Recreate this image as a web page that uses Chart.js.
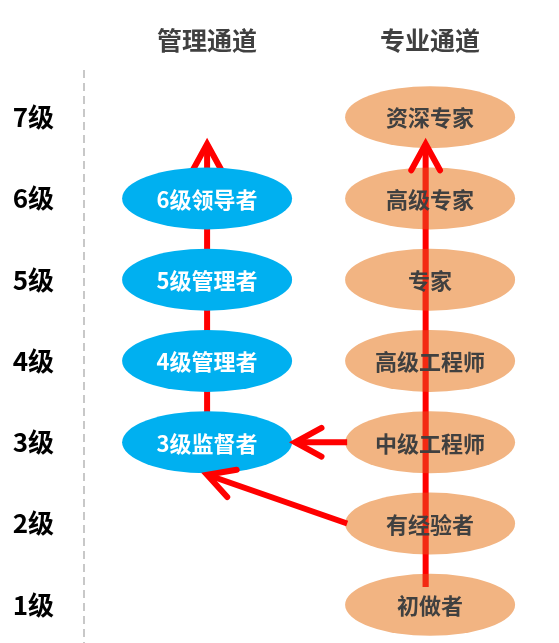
<!DOCTYPE html>
<html>
<head>
<meta charset="utf-8">
<script src="https://cdn.jsdelivr.net/npm/chart.js@4.4.1/dist/chart.umd.min.js"></script>
<style>
  html, body { margin: 0; padding: 0; background: #fff; overflow: hidden; }
  canvas { display: block; }
</style>
</head>
<body>
<canvas id="c" width="559" height="643"></canvas>
<script>
var channels = ['管理通道', '专业通道'];
var levels = [1, 2, 3, 4, 5, 6, 7];
var levelLabels = ['1级', '2级', '3级', '4级', '5级', '6级', '7级'];

var mgmtNames = ['3级监督者', '4级管理者', '5级管理者', '6级领导者'];
var mgmtLevels = [3, 4, 5, 6];
var techNames = ['初做者', '有经验者', '中级工程师', '高级工程师', '专家', '高级专家', '资深专家'];
var techLevels = [1, 2, 3, 4, 5, 6, 7];

// arrows: [start, end] as [channel, level]
var mgmtArrow = [[1, 2.6], [1, 6.67]];
var techArrow = [[1.98, 1.22], [1.98, 6.67]];
var midToMgmt = [[1.628, 3], [1.395, 3]];
var expToMgmt = [[1.628, 2], [1.0, 2.6]];

var FONT = '"Noto Sans CJK SC", "Noto Sans", sans-serif';
var RX = 85, RY = 31;

function pts(a) {
    return a.map(function (p) { return { x: p[0], y: p[1] }; });
}

function arrowSet(a, order, color) {
    return {
        type: 'line', data: pts(a), showLine: true, order: order,
        borderColor: color, borderWidth: 6, pointRadius: 0, fill: false,
        borderCapStyle: 'butt', arrow: true
    };
}

var diagram = {
    id: 'diagram',
    beforeDatasetsDraw: function (chart) {
        var ctx = chart.ctx, a = chart.chartArea;
        ctx.save();
        ctx.strokeStyle = '#C8C8C8';
        ctx.lineWidth = 2;
        ctx.setLineDash([8, 5]);
        ctx.beginPath();
        ctx.moveTo(a.left, a.top);
        ctx.lineTo(a.left, a.bottom);
        ctx.stroke();
        ctx.restore();
    },
    afterDatasetDraw: function (chart, args) {
        var ctx = chart.ctx;
        var ds = chart.data.datasets[args.index];
        var meta = args.meta;
        ctx.save();
        if (ds.nodeFill) {
            meta.data.forEach(function (el) {
                ctx.beginPath();
                ctx.ellipse(el.x, el.y, RX, RY, 0, 0, Math.PI * 2);
                ctx.fillStyle = ds.nodeFill;
                ctx.fill();
            });
        }
        if (ds.arrow) {
            var n = meta.data.length;
            var p = meta.data[n - 1], q = meta.data[n - 2];
            var ang = Math.atan2(p.y - q.y, p.x - q.x);
            var len = 30, spread = 0.5;
            ctx.strokeStyle = ds.borderColor;
            ctx.lineWidth = 6;
            ctx.lineCap = 'round';
            ctx.lineJoin = 'miter';
            ctx.beginPath();
            ctx.moveTo(p.x - len * Math.cos(ang - spread), p.y - len * Math.sin(ang - spread));
            ctx.lineTo(p.x, p.y);
            ctx.lineTo(p.x - len * Math.cos(ang + spread), p.y - len * Math.sin(ang + spread));
            ctx.stroke();
        }
        if (ds.tintNodes) {
            // orange shows faintly through the red line on the tech nodes
            var nodes = chart.getDatasetMeta(ds.tintNodes);
            var x0 = meta.data[0].x, yb = meta.data[0].y, yt = meta.data[meta.data.length - 1].y;
            ctx.fillStyle = 'rgba(215,140,60,0.3)';
            nodes.data.forEach(function (el) {
                ctx.save();
                ctx.beginPath();
                ctx.ellipse(el.x, el.y, RX, RY, 0, 0, Math.PI * 2);
                ctx.clip();
                ctx.beginPath();
                ctx.rect(x0 - 3, yt + 12, 6, yb - yt - 12);
                ctx.fill();
                ctx.restore();
            });
        }
        ctx.restore();
    },
    afterDatasetsDraw: function (chart) {
        var ctx = chart.ctx;
        ctx.save();
        ctx.textAlign = 'center';
        ctx.textBaseline = 'middle';
        ctx.font = 'bold 22px ' + FONT;
        chart.data.datasets.forEach(function (ds, i) {
            if (!ds.names) return;
            ctx.fillStyle = ds.textColor;
            chart.getDatasetMeta(i).data.forEach(function (el, j) {
                ctx.fillText(ds.names[j], el.x, el.y + 1);
            });
        });
        ctx.restore();
    }
};

var techLine = arrowSet(techArrow, 2, '#FF0000');
techLine.tintNodes = 4;

new Chart(document.getElementById('c'), {
    type: 'scatter',
    data: {
        datasets: [
            techLine,
            arrowSet(midToMgmt, 3, '#FF0000'),
            arrowSet(expToMgmt, 3, '#FF0000'),
            {
                data: mgmtLevels.map(function (l) { return { x: 1, y: l }; }),
                order: 4, pointRadius: 0, nodeFill: '#00B0F0',
                names: mgmtNames, textColor: '#FFFFFF'
            },
            {
                data: techLevels.map(function (l) { return { x: 2, y: l }; }),
                order: 4, pointRadius: 0, nodeFill: '#F2B482',
                names: techNames, textColor: '#404040'
            },
            arrowSet(mgmtArrow, 5, '#FF0000')
        ]
    },
    options: {
        responsive: false,
        animation: false,
        devicePixelRatio: 1,
        layout: { padding: 0 },
        plugins: { legend: { display: false }, tooltip: { enabled: false } },
        scales: {
            x: {
                type: 'linear', position: 'top', min: 0.448, max: 2.578,
                afterBuildTicks: function (s) { s.ticks = [{ value: 1 }, { value: 2 }]; },
                afterFit: function (s) { s.height = 70; s.paddingLeft = 0; s.paddingRight = 0; },
                grid: { display: false, drawTicks: false },
                border: { display: false },
                ticks: {
                    padding: 15, color: '#404040',
                    font: { family: FONT, size: 25, weight: 'bold' },
                    callback: function (v) { return channels[v - 1]; }
                }
            },
            y: {
                type: 'linear', min: 0.53, max: 7.58,
                afterBuildTicks: function (s) { s.ticks = levels.map(function (v) { return { value: v }; }); },
                afterFit: function (s) { s.width = 84; s.paddingTop = 0; s.paddingBottom = 0; },
                grid: { display: false, drawTicks: false },
                border: { display: false },
                ticks: {
                    padding: 30, color: '#000000',
                    font: { family: FONT, size: 26, weight: 'bold' },
                    callback: function (v) { return levelLabels[levels.indexOf(v)]; }
                }
            }
        }
    },
    plugins: [diagram]
});
</script>
</body>
</html>
